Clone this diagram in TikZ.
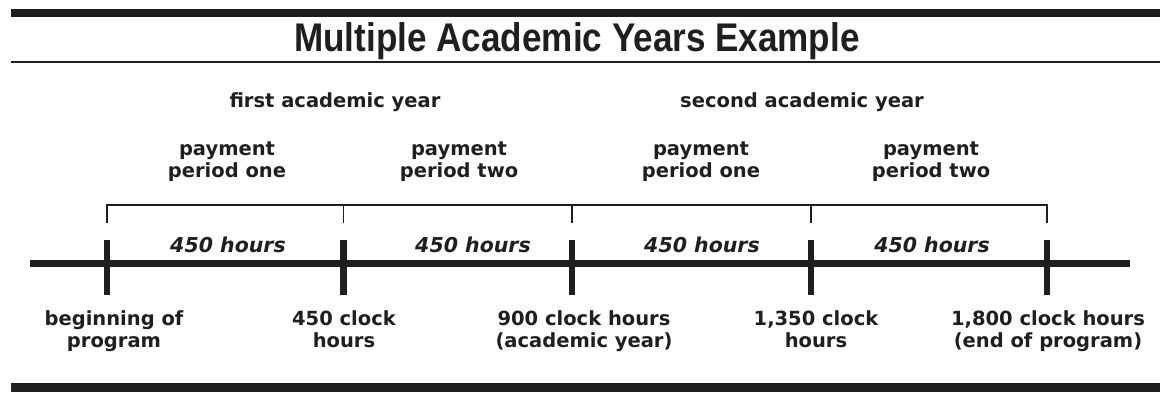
\documentclass[tikz,border=0pt]{standalone}
\usepackage{fontspec}
\usepackage{graphicx}
\setmainfont{DejaVu Sans}
\newfontfamily\titlefont{Liberation Sans}
\colorlet{ink}{black!88}
\tikzset{
  label/.style={font=\bfseries\fontsize{19.5}{22}\selectfont, align=center, inner sep=0pt, text=ink},
  hours/.style={font=\bfseries\itshape\fontsize{20.5}{22}\selectfont, inner sep=0pt, anchor=base, text=ink},
  bar/.style={fill=ink},
  rule/.style={line width=1.8pt, draw=ink},
  axis/.style={line width=6.5pt, draw=ink},
}
\begin{document}
\begin{tikzpicture}[x=1pt, y=-1pt]
  \useasboundingbox (0,0) rectangle (1160,397);

  % Top bar and title
  \fill[bar] (11,9) rectangle (1160,17);
  \node[font=\titlefont\bfseries\fontsize{40}{44}\selectfont, inner sep=0pt, anchor=base, text=ink] (title) at (577,51)
    {\scalebox{0.877}[1]{Multiple Academic Years Example}};
  \draw[rule] (11,62) -- (1160,62);

  % Academic years
  \node[label, anchor=base] (year1) at (335,107.5) {first academic year};
  \node[label, anchor=base] (year2) at (802,107.5) {second academic year};

  % Payment periods
  \node[label, anchor=north] (pp1) at (227,139.6) {\strut payment\\period one};
  \node[label, anchor=north] (pp2) at (459,139.6) {\strut payment\\period two};
  \node[label, anchor=north] (pp3) at (701,139.6) {\strut payment\\period one};
  \node[label, anchor=north] (pp4) at (931,139.6) {\strut payment\\period two};

  % Bracket over the periods
  \coordinate (b0) at (107,205);
  \coordinate (b1) at (343.5,205);
  \coordinate (b2) at (572,205);
  \coordinate (b3) at (811,205);
  \coordinate (b4) at (1047,205);
  \draw[rule] ([yshift=-18pt]b0) -- (b0) -- (b4) -- ([yshift=-18pt]b4);
  \foreach \b in {b1,b2,b3}
    \draw[rule] (\b) -- ([yshift=-18pt]\b);

  % Time line
  \coordinate (start) at (30,263.5);
  \coordinate (stop) at (1130,263.5);
  \draw[axis] (start) -- (stop);
  \foreach \b in {b0,b1,b2,b3,b4}
    \draw[axis] (\b |- 0,240) -- (\b |- 0,295);

  % Hours per period
  \node[hours] (h1) at (228,252) {450 hours};
  \node[hours] (h2) at (473,252) {450 hours};
  \node[hours] (h3) at (702,252) {450 hours};
  \node[hours] (h4) at (932,252) {450 hours};

  % Clock hour marks
  \node[label, anchor=north] (m0) at (114,309.6) {\strut beginning of\\program};
  \node[label, anchor=north] (m1) at (344,309.6) {\strut 450 clock\\hours};
  \node[label, anchor=north] (m2) at (584,309.6) {\strut 900 clock hours\\(academic year)};
  \node[label, anchor=north] (m3) at (816,309.6) {\strut 1,350 clock\\hours};
  \node[label, anchor=north] (m4) at (1048,309.6) {\strut 1,800 clock hours\\(end of program)};

  % Bottom bar
  \fill[bar] (11,383) rectangle (1160,392);
\end{tikzpicture}
\end{document}
